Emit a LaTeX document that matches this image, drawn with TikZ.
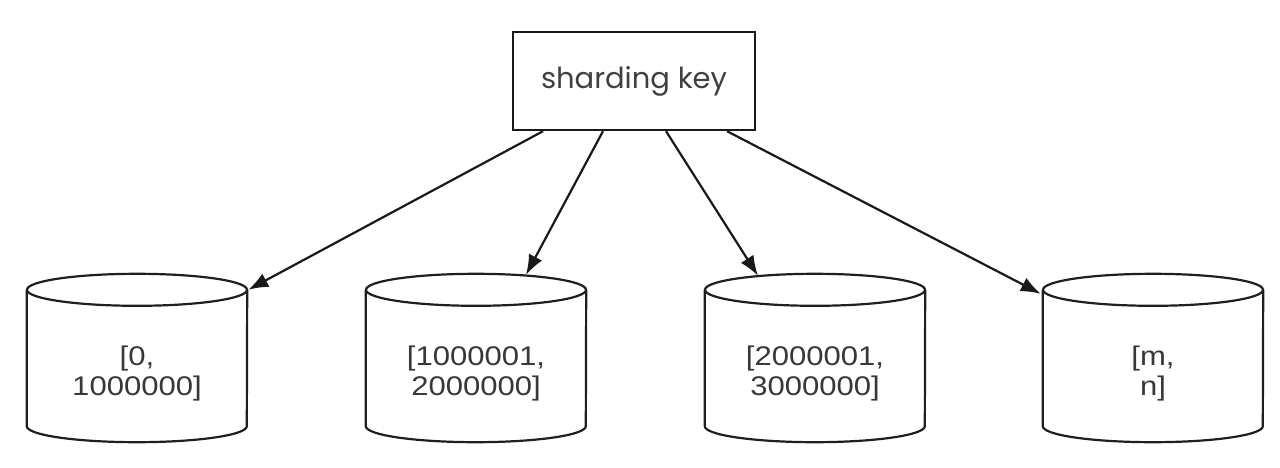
\documentclass[tikz,border=0pt]{standalone}
\usepackage{fontspec}
\setmainfont{Liberation Sans}[FakeStretch=1.15]
\newfontfamily\keyfont{Poppins}
\usetikzlibrary{arrows.meta,calc,positioning}

\begin{document}
\begin{tikzpicture}[
    x=1pt,y=1pt,
    >={Latex[length=20pt,width=15pt]},
    keybox/.style={
        draw=black!90,
        line width=2.4pt,
        fill=white,
        minimum width=242pt,
        minimum height=98pt,
        inner sep=0pt,
        text=black!75,
        font=\keyfont\fontsize{29}{34}\selectfont
    },
    body/.style={
        minimum width=220pt,
        minimum height=136pt,
        inner sep=0pt,
        align=center,
        text=black!78,
        font=\fontsize{27}{30}\selectfont
    },
    cyl/.style={draw=black!88, line width=2.2pt},
    flow/.style={->, line width=2.2pt, draw=black!90}
]
\useasboundingbox (0,0) rectangle (1280,467);

% -----------------------------------------------------------------------------
% Key and ranges
% -----------------------------------------------------------------------------
\node[keybox] (key) at (634,386) {sharding key};

\node[body] (c1) at (137,93)  {[0,\\1000000]};
\node[body] (c2) at (476,93)  {[1000001,\\2000000]};
\node[body] (c3) at (815,93)  {[2000001,\\3000000]};
\node[body] (c4) at (1153,93) {[m,\\n]};

\foreach \n in {c1,c2,c3,c4} {
    \draw[cyl] ($(\n.north west)+(0,16)$) -- ($(\n.south west)+(0,16)$)
        arc[start angle=180, end angle=360, x radius=110, y radius=16]
        -- ($(\n.north east)+(0,16)$);
    \draw[cyl] ($(\n.north)+(0,16)$) ellipse[x radius=110, y radius=16];
}

% -----------------------------------------------------------------------------
% Routing arrows
% -----------------------------------------------------------------------------
\coordinate (s1) at ($(key.south)+(-91,0)$);
\coordinate (s2) at ($(key.south)+(-31,0)$);
\coordinate (s3) at ($(key.south)+(32,0)$);
\coordinate (s4) at ($(key.south)+(93,0)$);

\coordinate (t1) at ($(c1.north east)+(1,16)$);
\coordinate (t2) at ($(c2.north)+(50,31)$);
\coordinate (t3) at ($(c3.north)+(-57,30)$);
\coordinate (t4) at ($(c4.north west)+(-2,12)$);

\draw[flow] (s1) -- (t1);
\draw[flow] (s2) -- (t2);
\draw[flow] (s3) -- (t3);
\draw[flow] (s4) -- (t4);

\end{tikzpicture}
\end{document}
